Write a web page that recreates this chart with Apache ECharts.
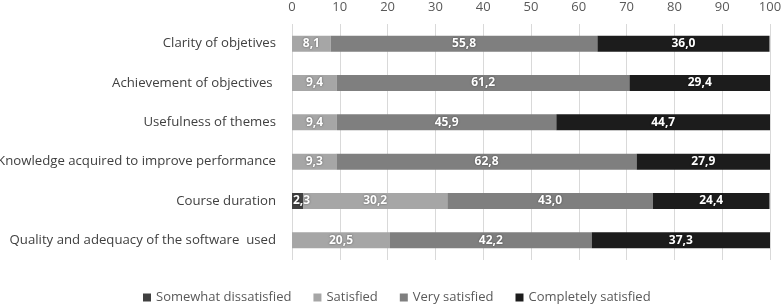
<!DOCTYPE html>
<html>
<head>
<meta charset="utf-8">
<script src="https://cdn.jsdelivr.net/npm/echarts@6/dist/echarts.min.js"></script>
<style>
  html, body { margin: 0; padding: 0; background: #fff; }
  #chart { width: 781px; height: 304px; }
</style>
</head>
<body>
<div id="chart"></div>
<script>
// categories, top to bottom
var categories = [
  'Clarity of objetives',
  'Achievement of objectives ',
  'Usefulness of themes',
  'Knowledge acquired to improve performance',
  'Course duration',
  'Quality and adequacy of the software  used'
]
var somewhatDissatisfied = [null, null, null, null, 2.3, null]
var satisfied = [8.1, 9.4, 9.4, 9.3, 30.2, 20.5]
var verySatisfied = [55.8, 61.2, 45.9, 62.8, 43.0, 42.2]
var completelySatisfied = [36.0, 29.4, 44.7, 27.9, 24.4, 37.3]

var fontFamily = '"Open Sans", "Noto Sans", sans-serif'

function makeSeries (name, data, color, position) {
  return {
    name: name,
    type: 'bar',
    stack: 'total',
    barWidth: 16,
    data: data,
    itemStyle: { color: color },
    z: position ? 3 : 2,
    label: {
      show: true,
      position: position || 'inside',
      distance: 1,
      color: '#fff',
      fontWeight: 'bold',
      fontSize: 12,
      fontFamily: fontFamily,
      textShadowColor: 'rgba(0,0,0,0.5)',
      textShadowBlur: 2,
      formatter: function (p) {
        return p.value == null ? '' : p.value.toFixed(1).replace('.', ',')
      }
    }
  }
}

var myChart = echarts.init(document.getElementById('chart'))
var option = {
  animation: false,
  textStyle: { fontFamily: fontFamily },
  legend: {
    top: 286,
    left: 138,
    itemWidth: 8,
    itemHeight: 8,
    itemGap: 22,
    icon: 'rect',
    textStyle: { color: '#595959', fontSize: 13, fontFamily: fontFamily },
    data: ['Somewhat dissatisfied', 'Satisfied', 'Very satisfied', 'Completely satisfied']
  },
  grid: {
    left: 292,
    right: 11,
    top: 24,
    height: 236,
    containLabel: false,
    outerBoundsMode: 'none'
  },
  xAxis: {
    type: 'value',
    position: 'top',
    min: 0,
    max: 100,
    interval: 10,
    axisLine: { show: false },
    axisTick: { show: false },
    axisLabel: { color: '#595959', fontSize: 13, margin: 10 },
    splitLine: { lineStyle: { color: '#d9d9d9' } }
  },
  yAxis: {
    type: 'category',
    inverse: true,
    data: categories,
    axisLine: { show: false },
    axisTick: { show: false },
    axisLabel: { color: '#404040', fontSize: 13.2, margin: 16 }
  },
  series: [
    makeSeries('Satisfied', satisfied, '#a6a6a6'),
    makeSeries('Very satisfied', verySatisfied, '#7f7f7f'),
    makeSeries('Completely satisfied', completelySatisfied, '#1c1c1c')
  ]
}
// the small dissatisfied segment goes first in the stack, label starts at its left edge
option.series.unshift(makeSeries('Somewhat dissatisfied', somewhatDissatisfied, '#404040', 'insideLeft'))
myChart.setOption(option)
</script>
</body>
</html>
